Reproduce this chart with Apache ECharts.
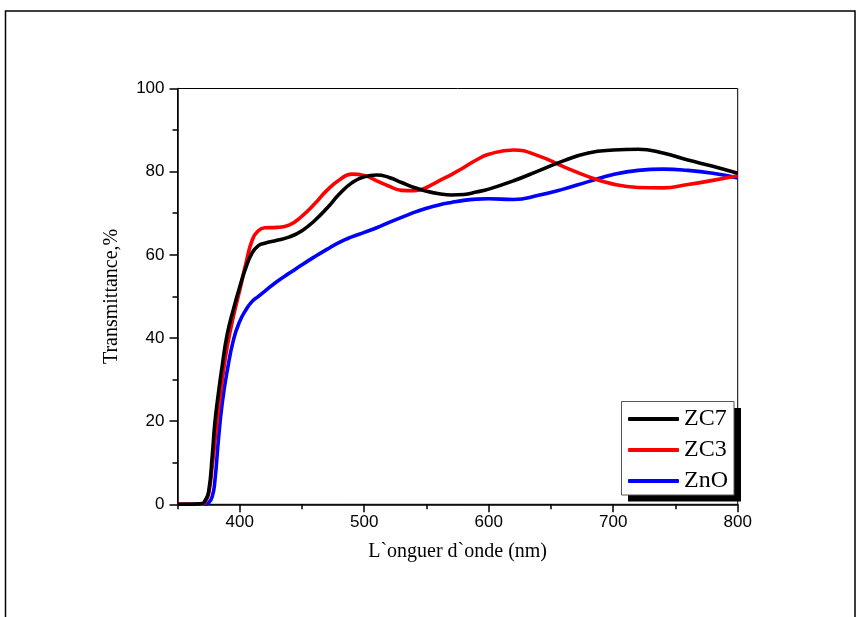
<!DOCTYPE html>
<html>
<head>
<meta charset="utf-8">
<script src="https://cdn.jsdelivr.net/npm/echarts@6/dist/echarts.min.js"></script>
<style>
html,body{margin:0;padding:0;background:#fff;}
#chart{width:857px;height:617px;}
</style>
</head>
<body>
<div id="chart"></div>
<script>
var wavelength = [350,360,370,372,375,378,380,383,386,390,395,400,405,410,415,420,430,440,450,460,470,480,490,500,510,520,530,540,550,560,570,580,590,600,620,640,660,680,700,720,740,760,780,800];
var zc7 = [0,0,0.2,0.8,3,12,19.5,27,33.5,41,47,52.3,57,60.5,62.2,62.8,63.5,64.3,65.8,68.2,71.2,74.6,77.3,78.8,79.2,78.6,77.4,76.2,75.3,74.7,74.4,74.5,75.1,75.8,77.8,80.2,82.6,84.5,85.2,85.4,84.5,82.8,81.3,79.6];
var zc3 = [0,0,0,0.5,2.5,9.5,15,23,30,38,45.3,51.5,58,63.5,65.8,66.5,66.6,67.2,69.3,72.2,75.5,78,79.4,79.1,77.8,76.5,75.5,75.4,76.2,77.8,79.3,81,82.8,84.2,85.2,83.8,81.2,78.8,77,76.2,76.1,76.9,77.9,79];
var zno = [0,0,0,0,0.3,2,5.5,16,24.5,32.2,39.6,44,46.8,48.8,50,51.2,53.6,55.6,57.6,59.5,61.3,63,64.3,65.4,66.5,67.8,69,70.2,71.2,72,72.6,73.1,73.4,73.5,73.3,74.3,75.8,77.6,79.3,80.3,80.6,80.3,79.6,78.5];
var seriesNames = ['ZC7','ZC3','ZnO'];
var seriesColors = ['#000000','#ff0000','#0000ff'];
var xMajorTicks = [400,500,600,700,800];

function pairs(ys){ return wavelength.map(function(x,i){ return [x, ys[i]]; }); }

var chart = echarts.init(document.getElementById('chart'), null, {renderer:'canvas'});
var serif = '"Liberation Serif","Times New Roman",serif';
var sans = '"Liberation Sans",Arial,sans-serif';
var data = [zc7, zc3, zno];

chart.setOption({
  animation: false,
  backgroundColor: '#fff',
  grid: {left:177.5, right:119.3, top:88.5, bottom:112.7, show:true, borderColor:'#000', borderWidth:1, backgroundColor:'transparent'},
  xAxis: [{
    type:'value', min:350, max:800, interval:50,
    name:'L`onguer d`onde (nm)', nameLocation:'middle', nameGap:37,
    nameTextStyle:{fontFamily:serif, fontSize:20, color:'#000'},
    axisLine:{show:true, onZero:false, lineStyle:{color:'#000', width:1.5}},
    axisTick:{show:true, inside:false, length:5, lineStyle:{color:'#000', width:1.5}},
    axisLabel:{show:true, customValues:xMajorTicks, fontFamily:sans, fontSize:17, color:'#000', margin:10},
    splitLine:{show:false}
  },{
    type:'value', min:350, max:800, interval:50, position:'bottom',
    axisLine:{show:false},
    axisTick:{show:true, inside:false, length:8, customValues:xMajorTicks, lineStyle:{color:'#000', width:1.5}},
    axisLabel:{show:false},
    splitLine:{show:false}
  }],
  yAxis: {
    type:'value', min:0, max:100, interval:20,
    name:'Transmittance,%', nameLocation:'middle', nameGap:56,
    nameTextStyle:{fontFamily:serif, fontSize:20, color:'#000'},
    axisLine:{show:true, onZero:false, lineStyle:{color:'#000', width:1.5}},
    axisTick:{show:true, inside:false, length:8, lineStyle:{color:'#000', width:1.5}},
    minorTick:{show:true, splitNumber:2, length:5, lineStyle:{color:'#000', width:1.5}},
    axisLabel:{fontFamily:sans, fontSize:17, color:'#000', margin:13},
    splitLine:{show:false}
  },
  legend: {
    orient:'vertical', left:628, top:407, itemWidth:51, itemHeight:4, itemGap:7,
    icon:'roundRect', z:50, zlevel:0,
    data: seriesNames,
    textStyle:{fontFamily:serif, fontSize:24, color:'#000', lineHeight:24},
    backgroundColor:'transparent', padding:0
  },
  graphic: {
    elements: [
      {type:'rect', shape:{x:5.5, y:11, width:849.5, height:700}, style:{fill:'none', stroke:'#000', lineWidth:1.5}, silent:true},
      {type:'rect', shape:{x:628, y:408, width:113, height:93.5}, style:{fill:'#000'}, silent:true},
      {type:'rect', shape:{x:621.5, y:401.5, width:112.5, height:93.5}, style:{fill:'#fff', stroke:'#555', lineWidth:1}, silent:true}
    ],
    z: 10
  },
  series: seriesNames.map(function(n,i){
    return {
      name:n, type:'line', xAxisIndex:0, data:pairs(data[i]),
      symbol:'none', smooth:0.5,
      lineStyle:{color:seriesColors[i], width:3.6},
      itemStyle:{color:seriesColors[i]},
      z: 3 - i
    };
  })
});
</script>
</body>
</html>
